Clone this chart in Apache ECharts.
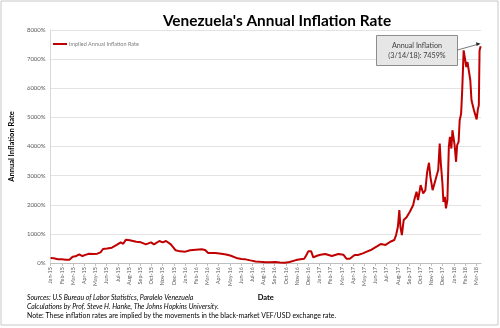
<!DOCTYPE html>
<html>
<head>
<meta charset="utf-8">
<script src="https://cdn.jsdelivr.net/npm/echarts@6/dist/echarts.min.js"></script>
<style>
  html, body { margin: 0; padding: 0; background: #fff; }
  #chart { width: 500px; height: 328px; }
</style>
</head>
<body>
<div id="chart"></div>
<script>
// Month tick labels along the date axis (one per month, Jan-15 .. Mar-18)
const monthLabels = [
  'Jan-15','Feb-15','Mar-15','Apr-15','May-15','Jun-15','Jul-15','Aug-15','Sep-15','Oct-15','Nov-15','Dec-15',
  'Jan-16','Feb-16','Mar-16','Apr-16','May-16','Jun-16','Jul-16','Aug-16','Sep-16','Oct-16','Nov-16','Dec-16',
  'Jan-17','Feb-17','Mar-17','Apr-17','May-17','Jun-17','Jul-17','Aug-17','Sep-17','Oct-17','Nov-17','Dec-17',
  'Jan-18','Feb-18','Mar-18'
];

// Observation dates
const dates = [
  '2015-01-01','2015-01-10','2015-01-21','2015-02-01','2015-02-11','2015-02-20','2015-02-28','2015-03-08',
  '2015-03-18','2015-03-27','2015-04-04','2015-04-14','2015-04-25','2015-05-06','2015-05-15','2015-05-22',
  '2015-06-02','2015-06-15','2015-06-28','2015-07-09','2015-07-16','2015-07-23','2015-08-03','2015-08-21',
  '2015-09-03','2015-09-16','2015-09-30','2015-10-08','2015-10-23','2015-11-01','2015-11-10','2015-11-23',
  '2015-12-06','2015-12-18','2016-01-02','2016-01-15','2016-01-31','2016-02-15','2016-02-24','2016-03-03',
  '2016-03-07','2016-03-23','2016-04-08','2016-04-21','2016-05-04','2016-05-22','2016-06-02','2016-06-13',
  '2016-06-26','2016-07-10','2016-07-23','2016-08-06','2016-08-19','2016-09-02','2016-09-15','2016-09-28',
  '2016-10-11','2016-10-29','2016-11-10','2016-11-20','2016-11-25','2016-12-01','2016-12-09','2016-12-15',
  '2016-12-25','2017-01-04','2017-01-17','2017-02-04','2017-02-20','2017-03-05','2017-03-14','2017-03-23',
  '2017-04-05','2017-04-14','2017-04-27','2017-05-08','2017-05-19','2017-05-29','2017-06-06','2017-06-15',
  '2017-06-28','2017-07-11','2017-07-22','2017-07-27','2017-08-01','2017-08-05','2017-08-08','2017-08-12',
  '2017-08-17','2017-08-25','2017-09-03','2017-09-12','2017-09-16','2017-09-21','2017-09-25','2017-10-02',
  '2017-10-09','2017-10-15','2017-10-20','2017-10-25','2017-10-29','2017-11-04','2017-11-09','2017-11-13',
  '2017-11-19','2017-11-23','2017-11-26','2017-11-30','2017-12-03','2017-12-07','2017-12-10','2017-12-14',
  '2017-12-18','2017-12-21','2017-12-25','2017-12-28','2018-01-03','2018-01-07','2018-01-10','2018-01-14',
  '2018-01-17','2018-01-21','2018-01-24','2018-01-28','2018-02-01','2018-02-04','2018-02-07','2018-02-10',
  '2018-02-14','2018-02-17','2018-02-20','2018-02-23','2018-02-26','2018-03-02','2018-03-05','2018-03-08',
  '2018-03-10','2018-03-13','2018-03-14'
];

// Implied annual inflation rate (%) on each date
const rates = [
  170, 160, 130, 125, 115, 110, 215, 230,
  300, 240, 280, 320, 310, 320, 365, 480,
  500, 525, 620, 710, 660, 800, 780, 730,
  710, 640, 710, 640, 755, 710, 755, 640,
  435, 400, 390, 435, 455, 470, 445, 345,
  365, 340, 320, 290, 250, 160, 140, 125,
  90, 55, 40, 25, 30, 35, 20, 10,
  35, 100, 130, 145, 250, 400, 400, 195,
  250, 285, 310, 240, 310, 285, 145, 145,
  275, 275, 330, 390, 445, 520, 580, 650,
  620, 730, 790, 960, 1245, 1820, 1245, 960,
  1475, 1570, 1760, 1990, 2220, 2445, 2160, 2675,
  2390, 2500, 3130, 3440, 2960, 2500, 2730, 2675,
  3190, 4105, 3420, 2790, 2100, 2275, 1875, 2160,
  3990, 4330, 3930, 4560, 4050, 3475, 4050, 4160,
  4900, 5130, 5935, 7300, 7360, 6730, 6900, 6850,
  6275, 5590, 5530, 5250, 5190, 4930, 5250, 5420,
  7300, 7440, 7459
];

const seriesName = 'Implied Annual Inflation Rate';
const noteLines = [
  'Sources: U.S Bureau of Labor Statistics, Paralelo Venezuela',
  'Calculations by Prof. Steve H. Hanke, The Johns Hopkins University.',
  'Note: These inflation rates are implied by the movements in the black-market VEF/USD exchange rate.'
];

// Position on the month axis: whole months since Jan 2015 plus the fraction of the month
function monthIndex(s) {
  const [y, m, d] = s.split('-').map(Number);
  const daysInMonth = new Date(y, m, 0).getDate();
  return (y - 2015) * 12 + (m - 1) + (d - 1) / daysInMonth;
}

const points = dates.map((d, i) => [monthIndex(d), rates[i]]);
const lastPoint = points[points.length - 1];
const lastDate = dates[dates.length - 1].split('-').map(Number);
const annotationText = 'Annual Inflation\n(' + lastDate[1] + '/' + lastDate[2] + '/' + String(lastDate[0]).slice(2) + '): ' + lastPoint[1] + '%';

const chart = echarts.init(document.getElementById('chart'), null, { renderer: 'canvas' });

const option = {
  backgroundColor: '#ffffff',
  animation: false,
  title: {
    text: "Venezuela's Annual Inflation Rate",
    left: 272,
    textAlign: 'center',
    top: 9,
    textStyle: { fontFamily: 'Lato', fontWeight: 'bold', fontSize: 15.4, color: '#000' }
  },
  legend: {
    left: 48,
    top: 36,
    itemWidth: 14,
    itemHeight: 2,
    itemGap: 2,
    icon: 'rect',
    data: [seriesName],
    textStyle: { fontFamily: 'Lato', fontSize: 5.5, color: '#7f7f7f', padding: [0, 0, 0, -3] }
  },
  grid: { left: 40, right: 19, top: 30, bottom: 65, containLabel: false },
  xAxis: {
    type: 'value',
    min: 0,
    max: lastPoint[0],
    interval: 1,
    name: 'Date',
    nameLocation: 'middle',
    nameGap: 28,
    nameTextStyle: { fontFamily: 'Lato', fontWeight: 'bold', fontSize: 7.5, color: '#000' },
    axisLine: { show: true, lineStyle: { color: '#bfbfbf', width: 1 } },
    axisTick: { show: true, length: 3, lineStyle: { color: '#bfbfbf' } },
    splitLine: { show: false },
    axisLabel: {
      rotate: 90,
      margin: 4,
      fontFamily: 'Lato',
      fontSize: 5.5,
      color: '#595959',
      showMaxLabel: false,
      formatter: v => (Number.isInteger(v) && monthLabels[v]) ? monthLabels[v] : ''
    }
  },
  yAxis: {
    type: 'value',
    min: 0,
    max: 8000,
    interval: 1000,
    name: 'Annual Inflation Rate',
    nameLocation: 'middle',
    nameGap: 27,
    nameTextStyle: { fontFamily: 'Lato', fontWeight: 'bold', fontSize: 7.5, color: '#000' },
    axisLine: { show: true, lineStyle: { color: '#d9d9d9' } },
    axisTick: { show: false },
    splitLine: { show: true, lineStyle: { color: '#e3e3e3', width: 1 } },
    axisLabel: {
      margin: 5,
      fontFamily: 'Lato',
      fontSize: 6,
      color: '#595959',
      formatter: v => v + '%'
    }
  },
  series: [{
    name: seriesName,
    type: 'line',
    data: points,
    showSymbol: false,
    symbol: 'none',
    color: '#c00000',
    lineStyle: { color: '#c00000', width: 2 },
    z: 3
  }]
};

chart.setOption(option);

// Callout box with an arrow pointing at the latest reading
const end = chart.convertToPixel({ gridIndex: 0 }, lastPoint);
const boxW = 81, boxH = 30;
const boxX = Math.round(end[0]) - 105;
const boxY = Math.round(end[1]) - 11;
const graphics = [
  {
    type: 'rect',
    shape: { x: 1, y: 1, width: 497, height: 324 },
    style: { fill: 'none', stroke: '#c8c8c8', lineWidth: 1 },
    silent: true
  },
  {
    type: 'rect',
    shape: { x: boxX + 0.5, y: boxY + 0.5, width: boxW, height: boxH },
    style: { fill: '#e6e6e6', stroke: '#8c8c8c', lineWidth: 1 },
    z: 10
  },
  {
    type: 'text',
    x: boxX + boxW / 2 + 0.5,
    y: boxY + boxH / 2 + 0.5,
    style: {
      text: annotationText,
      fontFamily: 'Lato',
      fontSize: 7.2,
      lineHeight: 10,
      fill: '#404040',
      align: 'center',
      verticalAlign: 'middle'
    },
    z: 11
  },
  {
    type: 'line',
    shape: { x1: boxX + boxW + 0.5, y1: boxY + 15, x2: end[0] - 3, y2: end[1] - 1.5 },
    style: { stroke: '#404040', lineWidth: 0.7 },
    z: 11
  },
  {
    type: 'polygon',
    shape: { points: [[end[0] - 0.5, end[1] - 2], [end[0] - 5, end[1] - 3.6], [end[0] - 4.3, end[1] + 0.2]] },
    style: { fill: '#222' },
    z: 11
  }
];

noteLines.forEach((t, i) => {
  graphics.push({
    type: 'text',
    x: 27,
    y: 294 + i * 9.3,
    style: {
      text: t,
      fontFamily: 'Lato',
      fontSize: 6.9,
      fontStyle: i < 2 ? 'italic' : 'normal',
      fill: '#000'
    }
  });
});

chart.setOption({ graphic: graphics });
</script>
</body>
</html>
